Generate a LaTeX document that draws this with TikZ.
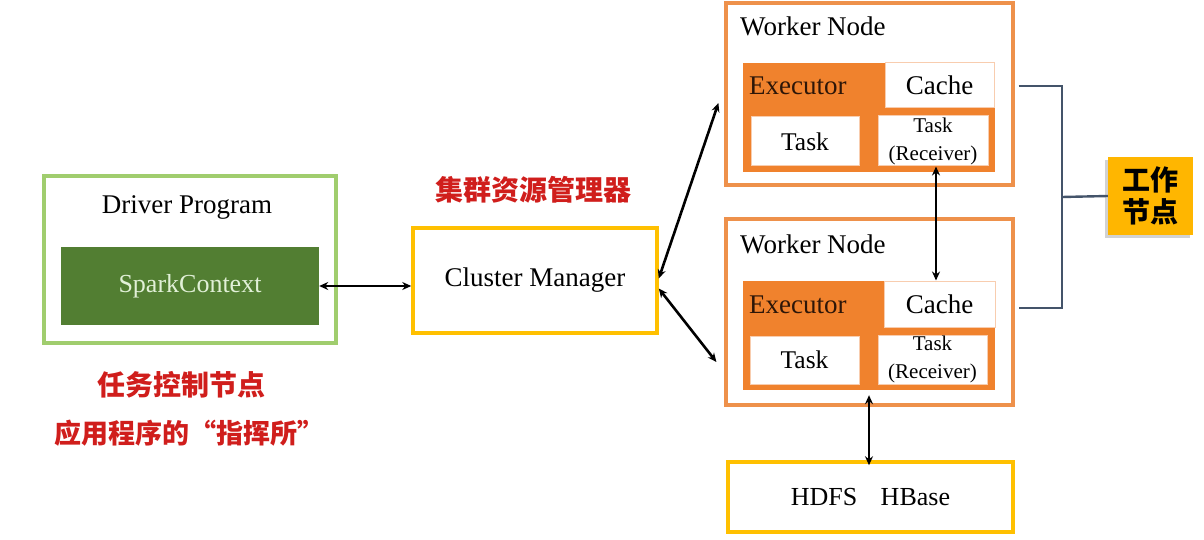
\documentclass[tikz,border=0pt]{standalone}
\usepackage{fontspec}
\setmainfont{Liberation Serif}
\newfontfamily\cjk{Noto Sans CJK SC}
\usetikzlibrary{arrows.meta,shadows}
\definecolor{drvgreen}{RGB}{160,205,110}
\definecolor{sparkgreen}{RGB}{82,126,50}
\definecolor{sparktext}{RGB}{225,240,215}
\definecolor{gold}{RGB}{255,192,0}
\definecolor{wborder}{RGB}{238,145,75}
\definecolor{exfill}{RGB}{240,130,45}
\definecolor{extext}{RGB}{45,22,8}
\definecolor{inborder}{RGB}{248,205,175}
\definecolor{redtxt}{RGB}{208,30,28}
\definecolor{bracket}{RGB}{68,84,106}
\definecolor{lblfill}{RGB}{255,182,0}
\tikzset{
  box/.style={rectangle, inner sep=0pt},
  drvbox/.style={box, draw=drvgreen, line width=3.2pt},
  sparkbox/.style={box, fill=sparkgreen, text=sparktext, font=\fontsize{26}{30}\selectfont},
  goldbox/.style={box, draw=gold, line width=3.5pt, font=\fontsize{27}{32}\selectfont},
  workbox/.style={box, draw=wborder, line width=3.2pt},
  exbox/.style={box, fill=exfill},
  inbox/.style={box, fill=white, draw=inborder, line width=1pt},
  big/.style={font=\fontsize{27}{32}\selectfont},
  mid/.style={font=\fontsize{25.5}{30}\selectfont},
  small/.style={font=\fontsize{21}{28}\selectfont, align=center},
  redlabel/.style={text=redtxt, font=\cjk\bfseries\fontsize{28}{32}\selectfont},
  conn/.style={{Stealth[length=9pt,width=8pt]}-{Stealth[length=9pt,width=8pt]}, line width=2.6pt, black},
  brk/.style={draw=bracket, line width=2.4pt},
  lblbox/.style={box, fill=lblfill, align=center, font=\cjk\bfseries\fontsize{28}{32}\selectfont,
    drop shadow={shadow xshift=-3pt, shadow yshift=-3pt, opacity=0.35, fill=gray}},
}
\begin{document}
\begin{tikzpicture}[x=1pt,y=-1pt]
\useasboundingbox[fill=white] (0,0) rectangle (1204,540);

% Driver
\node[drvbox, minimum width=292pt, minimum height=167pt] (driver) at (190,259.5) {};
\node[big] (drvt) at (187,207) {Driver Program};
\node[sparkbox, minimum width=258pt, minimum height=78pt] (spark) at (190,286) {SparkContext};
\node[redlabel] (red1) at (181,385) {任务控制节点};
\node[redlabel, font=\cjk\bfseries\fontsize{27}{32}\selectfont] (red2) at (189,433) {应用程序的“指挥所”};

% Cluster manager
\node[goldbox, minimum width=244pt, minimum height=105pt] (cm) at (535,280.5) {Cluster Manager};
\node[redlabel] (cml) at (533,190) {集群资源管理器};

% Worker 1
\node[workbox, minimum width=287pt, minimum height=182pt] (w1) at (869.5,94) {};
\node[big, anchor=west, inner sep=0pt] (w1t) at (740,26) {Worker Node};
\node[exbox, minimum width=252pt, minimum height=109pt] (ex1) at (869,117.5) {};
\node[big, anchor=west, inner sep=0pt, text=extext] (ex1t) at (749,86) {Executor};
\node[inbox, big, minimum width=109pt, minimum height=45pt] (cache1) at (939.5,85.5) {Cache};
\node[inbox, mid, minimum width=108pt, minimum height=49pt] (task1) at (805,141.5) {Task};
\node[inbox, small, minimum width=110pt, minimum height=50pt] (recv1) at (933,141) {Task\\(Receiver)};

% Worker 2
\node[workbox, minimum width=287pt, minimum height=186pt] (w2) at (869.5,312) {};
\node[big, anchor=west, inner sep=0pt] (w2t) at (740,244) {Worker Node};
\node[exbox, minimum width=252pt, minimum height=109pt] (ex2) at (869,335.5) {};
\node[big, anchor=west, inner sep=0pt, text=extext] (ex2t) at (749,305) {Executor};
\node[inbox, big, minimum width=111pt, minimum height=46pt] (cache2) at (939.5,304) {Cache};
\node[inbox, mid, minimum width=109pt, minimum height=48pt] (task2) at (804.5,360) {Task};
\node[inbox, small, minimum width=109pt, minimum height=49pt] (recv2) at (932.5,359.5) {Task\\(Receiver)};

% HDFS
\node[goldbox, font=\fontsize{26}{30}\selectfont, minimum width=285pt, minimum height=70pt] (hdfs) at (870.5,497) {HDFS\hspace{0.9em}HBase};

% Label
\node[lblbox, minimum width=85pt, minimum height=78pt] (lbl) at (1150.5,196) {工作\\节点};

% Connectors
\draw[conn] (spark.east) -- (spark.east -| cm.west);
\draw[conn] ([yshift=2pt]cm.east) -- ([xshift=-6pt,yshift=-9pt]w1.west);
\draw[conn] ([yshift=-8pt]cm.east) -- ([xshift=-8pt,yshift=-50pt]w2.west);
\draw[conn] ([xshift=3pt]recv1.south) -- ([xshift=3pt]recv1.south |- cache2.north);
\draw[conn] ([yshift=-5pt]ex2.south) -- ([yshift=-5pt]ex2.south |- hdfs.north);

% Bracket
\coordinate (bj) at (1062,197);
\draw[brk] ([xshift=4pt,yshift=8pt]w1.east) -| (bj) |- ([xshift=4pt,yshift=4pt]w2.east);
\draw[brk] (bj) -- (lbl.west);
\end{tikzpicture}
\end{document}
